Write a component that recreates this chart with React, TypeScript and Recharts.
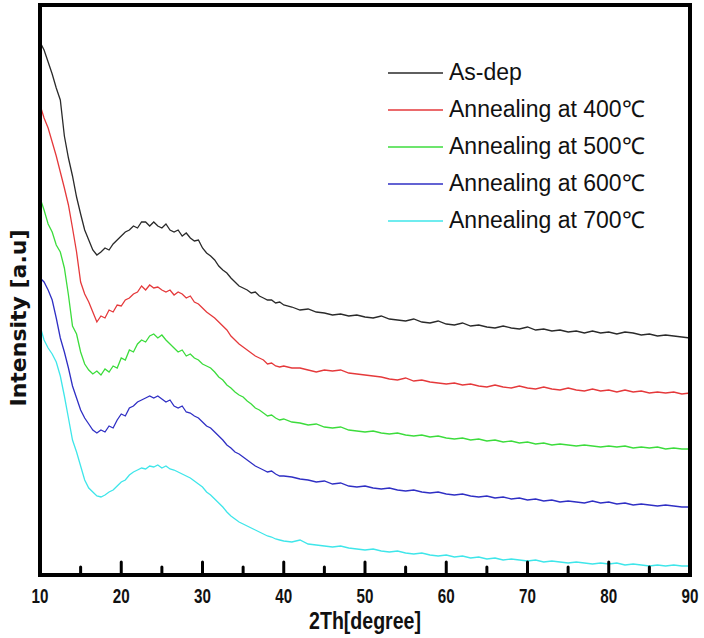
import React from 'react';
import { LineChart, Line, XAxis, YAxis, Legend } from 'recharts';

const angles = [
  10, 10.5, 11, 11.5, 12, 12.5, 13, 13.5, 14, 14.5, 15, 15.5, 16, 16.5, 17, 17.5, 18, 18.5, 19, 19.5,
  20, 20.5, 21, 21.5, 22, 22.5, 23, 23.5, 24, 24.5, 25, 25.5, 26, 26.5, 27, 27.5, 28, 28.5, 29, 29.5,
  30, 30.5, 31, 31.5, 32, 32.5, 33, 33.5, 34, 34.5, 35, 35.5, 36, 36.5, 37, 37.5, 38, 38.5, 39, 39.5,
  40, 41, 42, 43, 44, 45, 46, 47, 48, 49, 50, 51, 52, 53, 54, 55, 56, 57, 58, 59,
  60, 61, 62, 63, 64, 65, 66, 67, 68, 69, 70, 71, 72, 73, 74, 75, 76, 77, 78, 79,
  80, 81, 82, 83, 84, 85, 86, 87, 88, 89, 90,
];

const asDep = [
  533, 525, 513, 501, 487, 475, 439, 417, 399, 378, 361, 345, 335, 325, 320, 323, 327, 325, 331, 335,
  339, 343, 345, 349, 347, 353, 353, 349, 353, 349, 347, 351, 345, 343, 345, 339, 342, 337, 334, 335,
  327, 322, 319, 315, 309, 305, 302, 297, 293, 289, 287, 285, 282, 283, 279, 277, 275, 275, 272, 273,
  270, 268, 265, 266, 263, 262, 260, 261, 259, 260, 258, 257, 259, 256, 255, 254, 256, 253, 252, 254,
  251, 250, 252, 249, 250, 248, 247, 249, 247, 246, 248, 245, 246, 244, 245, 243, 244, 242, 244, 242,
  243, 241, 243, 242, 240, 241, 239, 240, 239, 238, 237,
];

const ann400 = [
  470, 457, 447, 433, 419, 403, 387, 370, 347, 323, 293, 281, 273, 263, 253, 259, 257, 265, 263, 270,
  269, 275, 277, 281, 283, 289, 285, 290, 287, 288, 285, 283, 285, 280, 283, 281, 277, 279, 273, 271,
  267, 263, 260, 257, 253, 249, 245, 239, 235, 231, 228, 225, 222, 219, 217, 215, 211, 212, 209, 208,
  209, 207, 207, 205, 203, 205, 204, 205, 202, 201, 200, 199, 198, 196, 195, 197, 194, 195, 193, 192,
  191, 192, 190, 191, 189, 188, 190, 188, 187, 189, 187, 186, 188, 186, 185, 187, 185, 184, 186, 184,
  185, 183, 185, 183, 184, 182, 183, 182, 183, 181, 182,
];

const ann500 = [
  377, 365, 351, 343, 330, 323, 307, 280, 249, 241, 223, 211, 205, 201, 204, 200, 206, 203, 209, 207,
  217, 215, 225, 223, 231, 235, 233, 239, 241, 237, 240, 235, 231, 227, 223, 225, 219, 221, 217, 215,
  211, 209, 207, 203, 198, 195, 190, 187, 183, 180, 178, 174, 171, 167, 165, 162, 159, 160, 157, 155,
  156, 153, 152, 150, 151, 148, 147, 148, 145, 144, 143, 144, 142, 141, 142, 140, 139, 140, 138, 139,
  137, 136, 137, 135, 136, 134, 135, 133, 134, 132, 133, 131, 132, 130, 131, 130, 129, 130, 129, 128,
  129, 128, 129, 127, 128, 127, 128, 126, 127, 126, 126,
];

const ann600 = [
  297, 293, 285, 275, 257, 237, 223, 207, 189, 177, 165, 157, 151, 145, 142, 145, 143, 149, 147, 155,
  161, 159, 167, 169, 173, 175, 177, 179, 177, 179, 176, 173, 175, 169, 167, 169, 163, 162, 159, 157,
  153, 149, 147, 143, 139, 135, 130, 127, 123, 121, 118, 115, 112, 109, 107, 105, 103, 104, 101, 99,
  99, 98, 96, 95, 93, 94, 91, 92, 89, 88, 89, 87, 86, 87, 85, 84, 85, 83, 82, 83,
  81, 80, 81, 79, 78, 79, 77, 78, 76, 77, 75, 76, 74, 75, 73, 74, 73, 72, 74, 72,
  73, 71, 72, 70, 71, 70, 69, 70, 69, 68, 68,
];

const ann700 = [
  249, 235, 227, 221, 213, 199, 179, 157, 135, 123, 109, 95, 87, 83, 79, 78, 80, 83, 85, 89,
  93, 95, 100, 103, 105, 107, 106, 109, 108, 110, 107, 109, 106, 105, 103, 101, 99, 97, 94, 91,
  88, 83, 80, 76, 72, 68, 63, 59, 56, 53, 51, 49, 47, 45, 43, 41, 39, 38, 36, 35,
  34, 33, 35, 31, 30, 29, 28, 29, 27, 26, 25, 26, 24, 23, 24, 22, 21, 22, 20, 19,
  20, 18, 19, 17, 18, 16, 17, 15, 16, 15, 14, 15, 13, 14, 13, 12, 13, 12, 11, 12,
  11, 12, 10, 11, 10, 9, 10, 9, 10, 9, 9,
];

const seriesNames = [
  'As-dep',
  'Annealing at 400℃',
  'Annealing at 500℃',
  'Annealing at 600℃',
  'Annealing at 700℃',
];
const seriesColors = ['#2a2a2a', '#e5393b', '#3cdc3c', '#2f2fc4', '#3fe6ea'];
const xTicks = [10, 15, 20, 25, 30, 35, 40, 45, 50, 55, 60, 65, 70, 75, 80, 85, 90];

const seriesValues = [asDep, ann400, ann500, ann600, ann700];
const data = angles.map((a, i) => ({
  angle: a,
  s0: asDep[i],
  s1: ann400[i],
  s2: ann500[i],
  s3: ann600[i],
  s4: ann700[i],
}));

const boldFont = "'Liberation Sans', Arial, sans-serif";

const XTick = (props: any) => {
  const { x, y, payload } = props;
  const v = payload.value;
  const major = v % 10 === 0;
  return (
    <g>
      <line
        x1={x}
        x2={x}
        y1={y - 1}
        y2={y - (major ? 13 : 8)}
        stroke="#000"
        strokeWidth={3}
        strokeLinecap="round"
      />
      {major && (
        <text
          x={0}
          y={0}
          transform={`translate(${x} ${y + 28}) scale(0.76 1)`}
          textAnchor="middle"
          fontFamily={boldFont}
          fontWeight="bold"
          fontSize={20}
          fill="#111"
        >
          {v}
        </text>
      )}
    </g>
  );
};

const LegendContent = () => {
  return (
    <div style={{ fontFamily: "'Liberation Sans', Arial, sans-serif", fontSize: 23, color: '#111' }}>
      {seriesNames.map((name, i) => (
        <div key={i} style={{ display: 'flex', alignItems: 'center', height: 37 }}>
          <svg width={55} height={4} style={{ display: 'block' }}>
            <line x1={0} x2={55} y1={2} y2={2} stroke={seriesColors[i]} strokeWidth={1.5} />
          </svg>
          <span style={{ marginLeft: 6, lineHeight: '37px', whiteSpace: 'nowrap' }}>{name}</span>
        </div>
      ))}
    </div>
  );
};

const axisLineStyle = { stroke: '#000', strokeWidth: 4, strokeLinecap: 'square' as const };

export default function App() {
  return (
    <div style={{ position: 'absolute', left: 0, top: 0, width: 704, height: 638, background: '#fff' }}>
      <LineChart
        width={704}
        height={638}
        data={data}
        margin={{ top: 4, right: 13, bottom: 62, left: 39 }}
      >
        <XAxis
          dataKey="angle"
          type="number"
          domain={[10, 90]}
          ticks={xTicks}
          interval={0}
          height={1}
          tickSize={0}
          tickMargin={0}
          tickLine={false}
          tick={<XTick />}
          axisLine={axisLineStyle}
          allowDataOverflow
        />
        <XAxis
          xAxisId="top"
          orientation="top"
          type="number"
          domain={[10, 90]}
          height={1}
          tick={false}
          tickLine={false}
          axisLine={axisLineStyle}
        />
        <YAxis
          type="number"
          domain={[0, 570]}
          width={1}
          tick={false}
          tickLine={false}
          axisLine={axisLineStyle}
          allowDataOverflow
        />
        <YAxis
          yAxisId="right"
          orientation="right"
          type="number"
          domain={[0, 570]}
          width={1}
          tick={false}
          tickLine={false}
          axisLine={axisLineStyle}
        />
        <Legend
          layout="vertical"
          align="center"
          verticalAlign="middle"
          content={<LegendContent />}
          wrapperStyle={{ position: 'absolute', left: 388, top: 54, width: 300, height: 190 }}
        />
        {seriesValues.map((_, i) => (
          <Line
            key={i}
            type="linear"
            dataKey={`s${i}`}
            name={seriesNames[i]}
            stroke={seriesColors[i]}
            strokeWidth={1.3}
            dot={false}
            isAnimationActive={false}
          />
        ))}
        <text
          x={0}
          y={0}
          transform="translate(365 629) scale(0.85 1)"
          textAnchor="middle"
          fontFamily={boldFont}
          fontWeight="bold"
          fontSize={23}
          fill="#111"
        >
          2Th[degree]
        </text>
        <text
          x={0}
          y={0}
          transform="translate(26 318) rotate(-90)"
          textAnchor="middle"
          fontFamily="'DejaVu Sans', sans-serif"
          fontWeight="bold"
          fontSize={22}
          fill="#111"
        >
          Intensity [a.u]
        </text>
      </LineChart>
    </div>
  );
}
